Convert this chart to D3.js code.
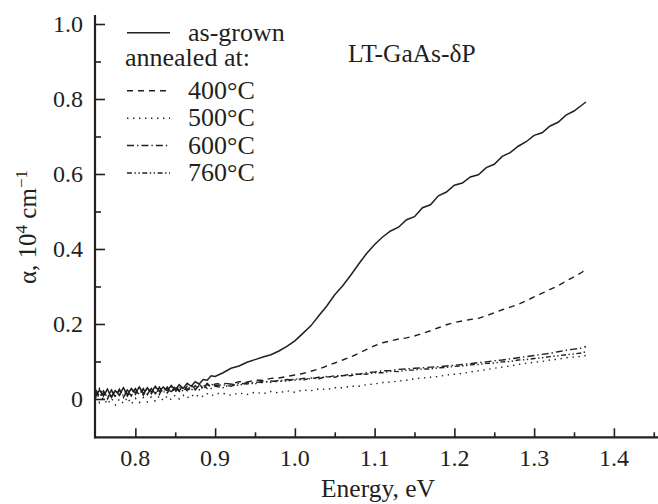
<!DOCTYPE html>
<html>
<head>
<meta charset="utf-8">
<script src="https://cdn.jsdelivr.net/npm/d3@7"></script>
<style>
  body { margin: 0; background: #fff; }
  svg { display: block; }
</style>
</head>
<body>
<svg id="chart" width="658" height="504"></svg>
<script>
// photon energy, eV (denser sampling in the noisy low-energy part)
const energy = [0.750,0.755,0.760,0.765,0.770,0.775,0.780,0.785,0.790,0.795,0.800,0.805,0.810,0.815,0.820,0.825,
  0.830,0.835,0.840,0.845,0.850,0.855,0.860,0.865,0.870,0.875,0.880,0.885,0.890,0.895,0.900,
  0.91,0.92,0.93,0.94,0.95,0.96,0.97,0.98,0.99,1.00,1.01,1.02,1.03,1.04,1.05,1.06,1.07,1.08,1.09,1.10,
  1.11,1.12,1.13,1.14,1.15,1.16,1.17,1.18,1.19,1.20,1.21,1.22,1.23,1.24,1.25,1.26,1.27,1.28,1.29,1.30,
  1.31,1.32,1.33,1.34,1.35,1.36,1.365];

// absorption, 10^4 cm^-1
const asGrown = [0.006,0.024,0.008,0.026,0.004,0.022,0.010,0.030,0.012,0.028,0.016,0.032,0.014,0.030,0.018,0.034,
  0.020,0.032,0.022,0.036,0.024,0.038,0.028,0.042,0.034,0.046,0.040,0.052,0.050,0.062,0.060,
  0.070,0.082,0.088,0.098,0.105,0.112,0.118,0.128,0.140,0.155,0.175,0.195,0.222,0.248,0.278,0.302,0.330,0.360,0.388,0.412,
  0.432,0.448,0.458,0.478,0.486,0.510,0.518,0.542,0.552,0.570,0.576,0.592,0.598,0.617,0.626,0.647,0.657,0.674,0.686,0.703,
  0.710,0.728,0.738,0.757,0.768,0.784,0.792];
const ann400 = [0.020,0.002,0.018,0.000,0.022,0.006,0.024,0.004,0.022,0.008,0.026,0.010,0.028,0.012,0.028,0.014,
  0.032,0.016,0.032,0.018,0.034,0.022,0.036,0.024,0.038,0.026,0.040,0.028,0.042,0.032,0.040,
  0.042,0.040,0.046,0.045,0.050,0.050,0.055,0.056,0.060,0.064,0.068,0.074,0.080,0.088,0.096,0.104,0.112,0.122,0.132,0.142,
  0.150,0.155,0.160,0.163,0.168,0.175,0.182,0.190,0.198,0.204,0.208,0.212,0.215,0.222,0.230,0.238,0.245,0.252,0.262,0.272,
  0.282,0.292,0.302,0.314,0.326,0.338,0.346];
const ann500 = [0.006,-0.010,0.004,-0.014,0.002,-0.016,0.000,-0.012,0.004,-0.014,0.002,-0.010,0.004,-0.008,0.006,-0.006,
  0.008,-0.004,0.008,-0.002,0.010,0.000,0.010,0.002,0.012,0.004,0.012,0.006,0.014,0.008,0.014,
  0.015,0.010,0.016,0.012,0.018,0.014,0.020,0.016,0.022,0.018,0.024,0.022,0.027,0.025,0.030,0.030,0.034,0.034,0.038,0.040,
  0.044,0.045,0.048,0.050,0.054,0.056,0.058,0.060,0.064,0.066,0.068,0.072,0.075,0.078,0.082,0.085,0.088,0.092,0.095,0.098,
  0.100,0.104,0.106,0.110,0.112,0.114,0.116];
const ann600 = [0.026,0.006,0.022,0.004,0.024,0.008,0.026,0.008,0.024,0.010,0.028,0.012,0.026,0.012,0.028,0.014,
  0.030,0.016,0.030,0.018,0.032,0.020,0.032,0.022,0.036,0.024,0.036,0.026,0.040,0.028,0.036,
  0.038,0.034,0.042,0.040,0.045,0.044,0.048,0.046,0.052,0.050,0.055,0.054,0.058,0.058,0.062,0.062,0.066,0.066,0.070,0.072,
  0.075,0.076,0.079,0.080,0.082,0.083,0.085,0.086,0.088,0.090,0.092,0.094,0.097,0.099,0.102,0.104,0.107,0.110,0.113,0.116,
  0.119,0.122,0.126,0.130,0.133,0.136,0.140];
const ann760 = [0.008,0.028,0.010,0.026,0.006,0.024,0.010,0.028,0.008,0.026,0.012,0.030,0.010,0.028,0.014,0.030,
  0.012,0.032,0.016,0.032,0.018,0.034,0.020,0.034,0.022,0.036,0.024,0.038,0.028,0.040,0.034,
  0.030,0.040,0.036,0.044,0.040,0.048,0.044,0.050,0.047,0.054,0.050,0.056,0.054,0.060,0.058,0.063,0.062,0.067,0.066,0.070,
  0.070,0.074,0.073,0.077,0.077,0.080,0.080,0.083,0.084,0.087,0.088,0.091,0.092,0.095,0.096,0.099,0.100,0.104,0.105,0.108,
  0.110,0.113,0.115,0.118,0.120,0.123,0.126];

const seriesNames = ["as-grown", "400°C", "500°C", "600°C", "760°C"];
const seriesValues = [asGrown, ann400, ann500, ann600, ann760];
const seriesDash = [null, "6,5", "1.4,4.6", "7,3,1.4,3", "5,2.5,1.4,2.5,1.4,2.5"];

const xTicks = [0.8, 0.9, 1.0, 1.1, 1.2, 1.3, 1.4];
const xMinor = [0.85, 0.95, 1.05, 1.15, 1.25, 1.35, 1.45];
const yTicks = [0, 0.2, 0.4, 0.6, 0.8, 1.0];
const yMinor = [0.1, 0.3, 0.5, 0.7, 0.9];

const ink = "#231f20";
const font = "'Liberation Serif', 'Times New Roman', 'DejaVu Serif', serif";
const svg = d3.select("#chart")
  .attr("font-family", font);

const x = d3.scaleLinear().domain([0.7494, 1.4553]).range([95, 658]);
const y = d3.scaleLinear().domain([-0.1022, 1.0]).range([437.3, 24]);

// axes
const gx = svg.append("g").attr("transform", `translate(0,${y.range()[0]})`);
gx.call(d3.axisTop(x).tickValues(xTicks).tickSize(9).tickFormat(""))
gx.append("g").call(d3.axisTop(x).tickValues(xMinor).tickSize(5).tickFormat(""))
gx.selectAll(".domain").remove();
gx.selectAll("line").attr("stroke", ink).attr("stroke-width", 1.6);
gx.append("line").attr("x1", x.range()[0] - 1).attr("x2", x.range()[1])
  .attr("stroke", ink).attr("stroke-width", 2.2);
gx.selectAll(".lbl").data(xTicks).enter().append("text")
  .attr("x", d => x(d)).attr("y", 29)
  .attr("text-anchor", "middle").attr("font-size", 24)
  .attr("font-family", font).attr("fill", ink)
  .text(d => d.toFixed(1));

const gy = svg.append("g").attr("transform", `translate(${x.range()[0]},0)`);
gy.call(d3.axisRight(y).tickValues(yTicks).tickSize(10).tickFormat(""));
gy.append("g").call(d3.axisRight(y).tickValues(yMinor).tickSize(6).tickFormat(""));
gy.selectAll(".domain").remove();
gy.selectAll("line").attr("stroke", ink).attr("stroke-width", 1.6);
gy.append("line").attr("y1", 15).attr("y2", y.range()[0] + 1)
  .attr("stroke", ink).attr("stroke-width", 2.2);
gy.selectAll(".lbl").data(yTicks).enter().append("text")
  .attr("x", -12).attr("y", d => y(d)).attr("dy", "0.34em")
  .attr("text-anchor", "end").attr("font-size", 24)
  .attr("font-family", font).attr("fill", ink)
  .text(d => d === 0 ? "0" : d.toFixed(1));

// axis titles
svg.append("text").attr("x", 378).attr("y", 497)
  .attr("text-anchor", "middle").attr("font-size", 25.5)
  .attr("font-family", font).attr("fill", ink)
  .text("Energy, eV");

const yt = svg.append("text")
  .attr("transform", "translate(36,227) rotate(-90)")
  .attr("text-anchor", "middle").attr("font-size", 25)
  .attr("font-family", font).attr("fill", ink);
yt.append("tspan").text("α, 10");
yt.append("tspan").attr("font-size", 17).attr("dy", -9).text("4");
yt.append("tspan").attr("dy", 9).text(" cm");
yt.append("tspan").attr("font-size", 17).attr("dy", -9).text("−1");

// curves
const line = d3.line().x(d => x(d[0])).y(d => y(d[1]));
const order = [2, 4, 3, 1, 0];
order.forEach(i => {
  const pts = energy.map((e, k) => [e, seriesValues[i][k]]);
  svg.append("path").datum(pts)
    .attr("d", line)
    .attr("fill", "none")
    .attr("stroke", ink)
    .attr("stroke-width", i === 0 ? 1.5 : 1.4)
    .attr("stroke-dasharray", seriesDash[i]);
});

// legend
const lg = svg.append("g").attr("font-family", font).attr("fill", ink);
const rowY = [32.7, 90.7, 118.3, 145.5, 173];
seriesNames.forEach((n, i) => {
  lg.append("line").attr("x1", 127).attr("x2", 170)
    .attr("y1", rowY[i]).attr("y2", rowY[i])
    .attr("stroke", ink).attr("stroke-width", 1.4)
    .attr("stroke-dasharray", seriesDash[i]);
  lg.append("text").attr("x", 188).attr("y", rowY[i] + 8)
    .attr("font-size", 26).text(n);
});
lg.append("text").attr("x", 125).attr("y", 66).attr("font-size", 26).text("annealed at:");

svg.append("text").attr("x", 348).attr("y", 61.5).attr("font-size", 25.5)
  .attr("font-family", font).attr("fill", ink)
  .text("LT-GaAs-δP");
</script>
</body>
</html>
